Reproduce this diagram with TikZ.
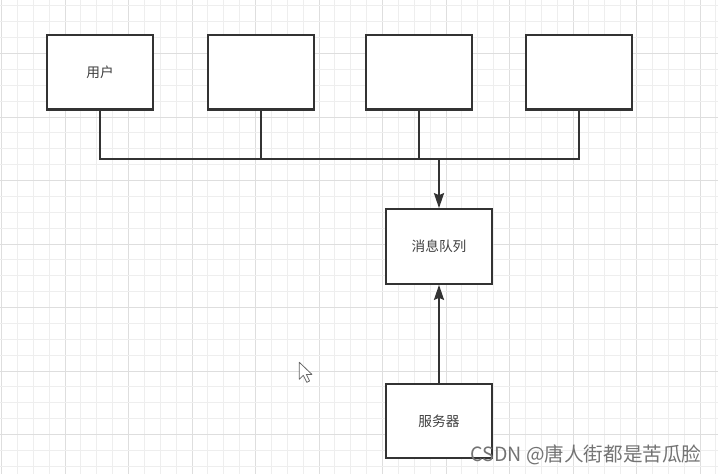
\documentclass[tikz,border=0pt]{standalone}
\usepackage{fontspec}
\usepackage{tikz}
\usetikzlibrary{arrows.meta}
\newfontfamily\cjk{Noto Sans CJK SC}

\definecolor{minorgrid}{HTML}{EEEEEE}
\definecolor{majorgrid}{HTML}{DEDEDE}
\definecolor{boxline}{HTML}{333333}

\begin{document}
\begin{tikzpicture}[
   x=1pt,y=-1pt,
   font=\cjk\fontsize{13.7}{15}\selectfont,
   box/.style={draw=boxline,line width=2.2pt,fill=white,minimum width=106pt,minimum height=74.5pt,inner sep=0pt,text=black!75},
   link/.style={draw=boxline,line width=2.2pt},
   to/.style={link,-{Stealth[length=15pt,width=10pt,inset=2pt]}},
   every node/.style={anchor=center}]
\useasboundingbox[fill=white] (0,0) rectangle (718,474);
% grid
\foreach \i in {0,...,45}{
  \pgfmathtruncatemacro{\m}{mod(\i,4)}
  \ifnum\m=0 \def\gc{majorgrid}\else\def\gc{minorgrid}\fi
  \draw[\gc,line width=1pt] (1.5+15.875*\i,0) -- (1.5+15.875*\i,474);
}
\foreach \j in {0,...,29}{
  \pgfmathtruncatemacro{\m}{mod(\j,4)}
  \ifnum\m=3 \def\gc{majorgrid}\else\def\gc{minorgrid}\fi
  \draw[\gc,line width=1pt] (0,5.9+15.875*\j) -- (718,5.9+15.875*\j);
}
% boxes
\node[box] (user) at (100,72.3) {用户};
\node[box] (user2) at (261,72.3) {};
\node[box] (user3) at (419,72.3) {};
\node[box] (user4) at (578.7,72.3) {};
\node[box] (queue) at (439,246.5) {消息队列};
\node[box] (server) at (439,421) {服务器};
\coordinate (bus) at (439,159.3);
% links
\draw[link] (user.south) |- (bus) -| (user4.south);
\draw[link] (user2.south) -- (user2.south |- bus);
\draw[link] (user3.south) -- (user3.south |- bus);
\draw[to] (bus) -- (queue.north);
\draw[to] (server.north) -- (queue.south);
% cursor
\draw[fill=white,draw=black!60,line width=0.8pt,line join=round]
  (299.3,362.3) -- ++(0,17) -- ++(4,-4) -- ++(3.5,7) -- ++(2.8,-1.3)
  -- ++(-3.3,-6.6) -- ++(5.6,0) -- cycle;
% watermark
\node[text=black!55,font=\cjk\fontsize{19.6}{21}\selectfont] (mark) at (586,455) {CSDN @唐人街都是苦瓜脸};
\end{tikzpicture}
\end{document}
